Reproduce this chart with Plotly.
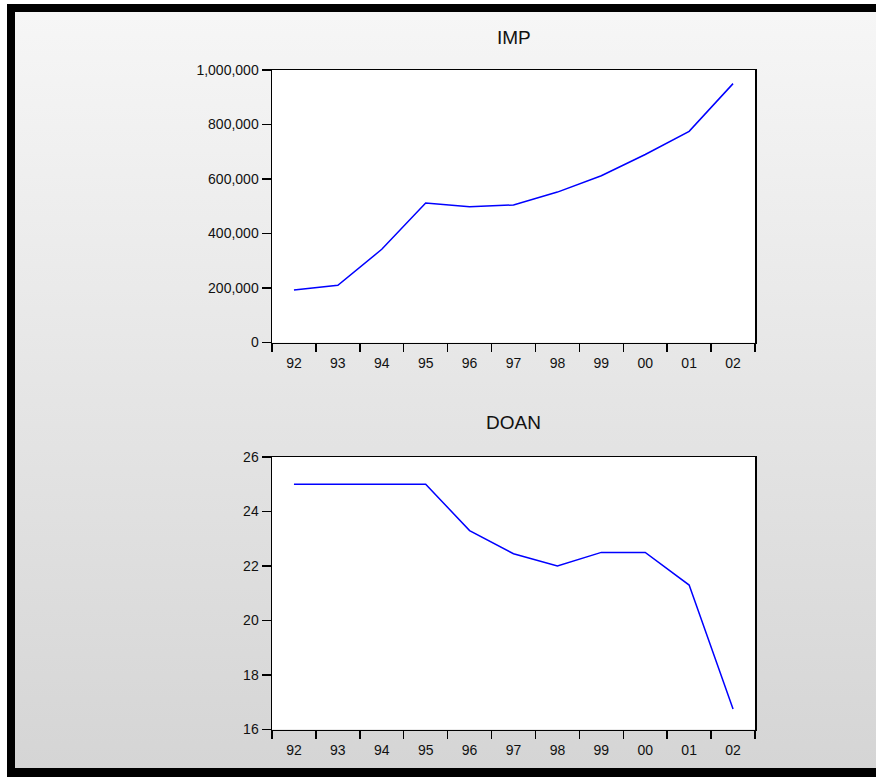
import base64
import plotly.graph_objects as go

# ---- data ----
years = ["92", "93", "94", "95", "96", "97", "98", "99", "00", "01", "02"]
imp = [193000, 210000, 342000, 512000, 498000, 505000, 552000, 612000, 690000, 775000, 950000]
doan = [25.0, 25.0, 25.0, 25.0, 23.3, 22.45, 22.0, 22.5, 22.5, 21.3, 16.75]
titles = ["IMP", "DOAN"]
imp_ticks = [0, 200000, 400000, 600000, 800000, 1000000]
doan_ticks = [16, 18, 20, 22, 24, 26]

W, H = 876, 777
FONT = "Liberation Sans, Arial, sans-serif"


def px_x(p):
    return p / W


def px_y(p):
    return 1 - p / H


fig = go.Figure()
fig.add_trace(go.Scatter(x=years, y=imp, mode="lines", xaxis="x", yaxis="y",
                         line=dict(color="#0000ff", width=1.5),
                         showlegend=False, hoverinfo="skip"))
fig.add_trace(go.Scatter(x=years, y=doan, mode="lines", xaxis="x2", yaxis="y2",
                         line=dict(color="#0000ff", width=1.5),
                         showlegend=False, hoverinfo="skip"))

xdom = [px_x(272), px_x(755)]
common_x = dict(type="category", range=[-0.5, len(years) - 0.5], tickson="boundaries",
                ticks="outside", ticklen=8, tickwidth=1.5, tickcolor="black",
                showline=True, linecolor="black", linewidth=1.5, mirror=True,
                showgrid=False, zeroline=False, automargin=False,
                tickfont=dict(family=FONT, size=14, color="#111"),
                ticklabelstandoff=7, domain=xdom, fixedrange=True)
common_y = dict(ticks="outside", ticklen=9, tickwidth=1.5, tickcolor="black",
                showline=True, linecolor="black", linewidth=1.5, mirror=True,
                showgrid=False, zeroline=False, automargin=False,
                tickfont=dict(family=FONT, size=14, color="#111"), fixedrange=True)

fig.update_layout(
    width=W, height=H,
    margin=dict(l=0, r=0, t=0, b=0, pad=0),
    paper_bgcolor="white", plot_bgcolor="white",
    xaxis=dict(**common_x, anchor="y"),
    yaxis=dict(**common_y, anchor="x", domain=[px_y(342.5), px_y(70)],
               range=[0, 1000000], tickvals=imp_ticks, tickformat=","),
    xaxis2=dict(**common_x, anchor="y2"),
    yaxis2=dict(**common_y, anchor="x2", domain=[px_y(729.5), px_y(457)],
                range=[16, 26], tickvals=doan_ticks),
)

# titles
for ax, t, yy in [("x", titles[0], 37), ("x2", titles[1], 422)]:
    fig.add_annotation(text=t, xref=ax + " domain", x=0.5, yref="paper", y=px_y(yy),
                       xanchor="center", yanchor="middle", showarrow=False,
                       font=dict(family=FONT, size=19, color="#111"))

# gradient background
svg = ('<svg xmlns="http://www.w3.org/2000/svg" width="10" height="100" viewBox="0 0 10 100" '
       'preserveAspectRatio="none"><defs><linearGradient id="g" x1="0" y1="0" x2="0" y2="1">'
       '<stop offset="0" stop-color="#f6f6f6"/><stop offset="1" stop-color="#d5d5d5"/>'
       '</linearGradient></defs><rect width="10" height="100" fill="url(#g)"/></svg>')
src = "data:image/svg+xml;base64," + base64.b64encode(svg.encode()).decode()
fig.add_layout_image(source=src, xref="paper", yref="paper", x=px_x(15), y=px_y(12),
                     sizex=px_x(W - 15), sizey=(768 - 12) / H, sizing="stretch",
                     xanchor="left", yanchor="top", layer="below")

# white plot areas above the gradient
for xa, ya in [("x", "y"), ("x2", "y2")]:
    fig.add_shape(type="rect", xref=xa + " domain", yref=ya + " domain", x0=0, x1=1, y0=0, y1=1,
                  fillcolor="white", line=dict(width=0), layer="below")

# black frame
for x0, y0, x1, y1 in [(7, 4, W, 12), (7, 4, 15, H), (7, 768, W, H)]:
    fig.add_shape(type="rect", xref="paper", yref="paper", x0=px_x(x0), x1=px_x(x1),
                  y0=px_y(y1), y1=px_y(y0), fillcolor="black", line=dict(width=0), layer="below")

fig.write_html("out.html", config={"displayModeBar": False, "staticPlot": True},
               post_script="document.body.style.margin='0';document.body.style.overflow='hidden';")
